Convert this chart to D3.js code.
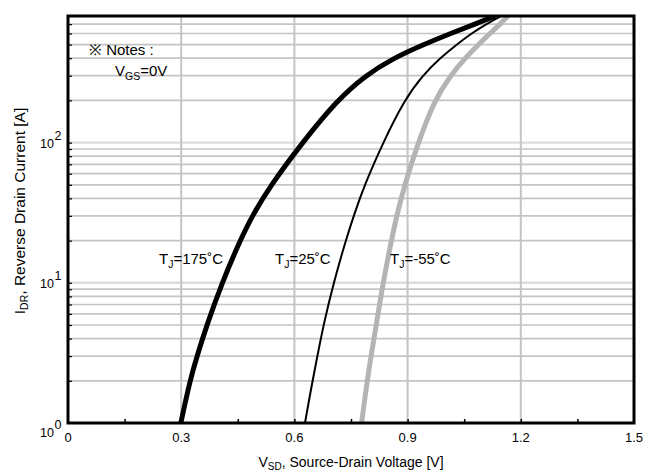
<!DOCTYPE html>
<html>
<head>
<meta charset="utf-8">
<script src="https://cdn.jsdelivr.net/npm/d3@7"></script>
<style>
  body { margin: 0; background: #fff; }
  text { font-family: "Liberation Sans", Arial, sans-serif; fill: #000; }
</style>
</head>
<body>
<svg id="chart" width="653" height="474"></svg>
<script>
// Reverse drain current levels [A] at which each curve's voltage is read
const currentLevels = [1, 2, 3, 5, 10, 20, 30, 50, 100, 200, 300, 400, 500, 600, 700, 800];
// Source-drain voltage [V] for each junction temperature
const vsdTj175 = [0.299, 0.323, 0.342, 0.368, 0.408, 0.456, 0.488, 0.538, 0.621, 0.713, 0.787, 0.862, 0.942, 1.014, 1.078, 1.132];
const vsdTj25  = [0.628, 0.648, 0.661, 0.677, 0.704, 0.736, 0.757, 0.786, 0.835, 0.891, 0.939, 0.986, 1.030, 1.069, 1.108, 1.148];
const vsdTjM55 = [0.778, 0.793, 0.803, 0.817, 0.835, 0.857, 0.871, 0.892, 0.928, 0.971, 1.013, 1.052, 1.088, 1.118, 1.145, 1.166];

const xTickValues = [0, 0.3, 0.6, 0.9, 1.2, 1.5];
const xTickLabels = ["0", "0.3", "0.6", "0.9", "1.2", "1.5"];
const xMinorTicks = [0.15, 0.3, 0.45, 0.6, 0.75, 0.9, 1.05, 1.2, 1.35];
const yDecades = [1, 10, 100];
const yExponents = ["0", "1", "2"];

const svg = d3.select("#chart");
const plotL = 68, plotR = 634, plotT = 16, plotB = 423;

const x = d3.scaleLinear().domain([0, 1.5]).range([plotL, plotR]);
const y = d3.scaleLog().domain([1, 800]).range([plotB, plotT]);

// grid values: 2..9 of each decade plus the decade lines themselves
const minorValues = [];
yDecades.forEach(d => { for (let k = 2; k <= 9; k++) if (k * d <= 800) minorValues.push(k * d); });
const decadeLines = [10, 100];

const grid = svg.append("g");
grid.selectAll("line.h").data(minorValues).join("line")
  .attr("x1", plotL).attr("x2", plotR)
  .attr("y1", d => y(d)).attr("y2", d => y(d))
  .attr("stroke", "#c4c4c4").attr("stroke-width", 1.7);
grid.selectAll("line.d").data(decadeLines).join("line")
  .attr("x1", plotL).attr("x2", plotR)
  .attr("y1", d => y(d)).attr("y2", d => y(d))
  .attr("stroke", "#dcdcdc").attr("stroke-width", 2.4);
grid.selectAll("line.v").data([0.3, 0.6, 0.9, 1.2]).join("line")
  .attr("x1", d => x(d)).attr("x2", d => x(d))
  .attr("y1", plotT).attr("y2", plotB)
  .attr("stroke", "#c4c4c4").attr("stroke-width", 2);

// inward tick marks
svg.append("g").attr("transform", `translate(0,${plotB})`)
  .call(d3.axisBottom(x).tickValues(xMinorTicks).tickSize(-4).tickFormat(""))
  .call(g => g.select(".domain").remove())
  .call(g => g.selectAll("line").attr("stroke", "#000").attr("stroke-width", 1.5));
svg.append("g").attr("transform", `translate(${plotL},0)`)
  .call(d3.axisLeft(y).tickValues(minorValues.concat(decadeLines)).tickSize(-4).tickFormat(""))
  .call(g => g.select(".domain").remove())
  .call(g => g.selectAll("line").attr("stroke", "#000").attr("stroke-width", 1.2));

// curves, clipped to the plot frame
svg.append("clipPath").attr("id", "plotClip")
  .append("rect").attr("x", plotL).attr("y", plotT).attr("width", plotR - plotL).attr("height", plotB - plotT);

const line = d3.line()
  .x(d => x(d[0])).y(d => y(d[1]))
  .curve(d3.curveBasis);

const series = [
  { v: vsdTj175, color: "#000", width: 5 },
  { v: vsdTj25,  color: "#000", width: 2 },
  { v: vsdTjM55, color: "#b4b4b4", width: 5 }
];
const curves = svg.append("g").attr("clip-path", "url(#plotClip)");
series.forEach(s => {
  curves.append("path")
    .datum(s.v.map((v, i) => [v, currentLevels[i]]))
    .attr("d", line)
    .attr("fill", "none")
    .attr("stroke", s.color)
    .attr("stroke-width", s.width)
    .attr("stroke-linejoin", "round");
});

// plot frame
svg.append("rect")
  .attr("x", plotL).attr("y", plotT).attr("width", plotR - plotL).attr("height", plotB - plotT)
  .attr("fill", "none").attr("stroke", "#000").attr("stroke-width", 3);

// x tick labels
svg.append("g").selectAll("text").data(xTickValues).join("text")
  .attr("x", d => x(d)).attr("y", 442)
  .attr("text-anchor", "middle").attr("font-size", 13)
  .text((d, i) => xTickLabels[i]);

// y tick labels: 10 with superscript exponent
const labelBase = d => d === 1 ? 437 : y(d) + 5.5;
svg.append("g").selectAll("text").data(yDecades).join("text")
  .attr("x", 54).attr("y", labelBase)
  .attr("text-anchor", "end").attr("font-size", 12.5)
  .text("10");
svg.append("g").selectAll("text").data(yDecades).join("text")
  .attr("x", 54.5).attr("y", d => labelBase(d) - 8)
  .attr("font-size", 12.5)
  .text((d, i) => yExponents[i]);

// axis titles
const xt = svg.append("text").attr("x", (plotL + plotR) / 2).attr("y", 467)
  .attr("text-anchor", "middle").attr("font-size", 14);
xt.append("tspan").text("V");
xt.append("tspan").attr("font-size", 10).attr("dy", 3).text("SD");
xt.append("tspan").attr("dy", -3).text(", Source-Drain Voltage [V]");

const yt = svg.append("text")
  .attr("transform", "translate(25,211) rotate(-90)")
  .attr("text-anchor", "middle").attr("font-size", 15.5);
yt.append("tspan").text("I");
yt.append("tspan").attr("font-size", 10.5).attr("dy", 3).text("DR");
yt.append("tspan").attr("dy", -3).text(", Reverse Drain Current [A]");

// notes
svg.append("text").attr("x", 89).attr("y", 55).attr("font-size", 15).text("※ Notes :");
const vg = svg.append("text").attr("x", 115).attr("y", 76).attr("font-size", 15);
vg.append("tspan").text("V");
vg.append("tspan").attr("font-size", 10.5).attr("dy", 3.5).text("GS");
vg.append("tspan").attr("dy", -3.5).text("=0V");

// curve labels
const curveLabels = [
  { x0: 159, rest: "=175˚C" },
  { x0: 275, rest: "=25˚C" },
  { x0: 390, rest: "=-55˚C" }
];
curveLabels.forEach(c => {
  const t = svg.append("text").attr("x", c.x0).attr("y", 264).attr("font-size", 15);
  t.append("tspan").text("T");
  t.append("tspan").attr("font-size", 10.5).attr("dy", 4).text("J");
  t.append("tspan").attr("dy", -4).text(c.rest);
});
</script>
</body>
</html>
